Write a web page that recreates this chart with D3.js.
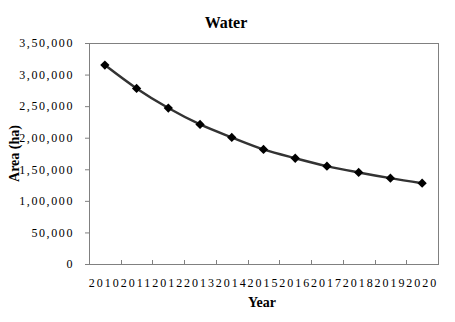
<!DOCTYPE html>
<html><head><meta charset="utf-8">
<script src="https://cdn.jsdelivr.net/npm/d3@7"></script>
<style>body{margin:0;background:#fff}svg{display:block}text{font-family:"Liberation Serif","Times New Roman",serif}</style>
</head><body><svg id="c" width="455" height="322"></svg>
<script>
const years = ["2010","2011","2012","2013","2014","2015","2016","2017","2018","2019","2020"];
const waterArea = [315000,278000,247000,221000,200500,181500,167500,155000,145000,136000,128000];
const yTicks = [0,50000,100000,150000,200000,250000,300000,350000];
const yTickLabels = ["0","50,000","1,00,000","1,50,000","2,00,000","2,50,000","3,00,000","3,50,000"];

const svg = d3.select("#c");
const L=89, R=438, T=43, B=264;
const x = d3.scaleBand().domain(years).range([L,R]);
const y = d3.scaleLinear().domain([0,350000]).range([B,T]);

// frame
svg.append("rect").attr("x",L+0.5).attr("y",T+0.5).attr("width",R-L).attr("height",B-T)
  .attr("fill","none").attr("stroke","#808080").attr("stroke-width",1);

// y axis
const ya = svg.append("g").attr("transform",`translate(${L},0)`)
  .call(d3.axisLeft(y).tickValues(yTicks).tickSize(4).tickPadding(11).tickFormat((d,i)=>yTickLabels[i]));
ya.select(".domain").attr("stroke","#808080");
ya.selectAll(".tick line").attr("stroke","#808080");
ya.selectAll("text").attr("font-size",12).attr("fill","#000").attr("letter-spacing","1.6px");

// x axis with ticks at band boundaries
const xa = svg.append("g").attr("transform",`translate(0,${B})`)
  .call(d3.axisBottom(x).tickSize(0).tickPadding(14));
xa.select(".domain").attr("stroke","#808080");
xa.selectAll("text").attr("font-size",12).attr("fill","#000").attr("letter-spacing","2px");
xa.selectAll(".tickmark").data(years.slice(1)).enter().append("line")
  .attr("x1",d=>Math.round(x(d))+0.5).attr("x2",d=>Math.round(x(d))+0.5)
  .attr("y1",0).attr("y2",-4).attr("stroke","#808080");

// line
const pts = years.map((d,i)=>[x(d)+x.bandwidth()/2, y(waterArea[i])]);
svg.append("path").attr("d",d3.line().curve(d3.curveMonotoneX)(pts))
  .attr("fill","none").attr("stroke","#333").attr("stroke-width",2.5);
svg.selectAll(".m").data(pts).enter().append("path")
  .attr("transform",d=>`translate(${d[0]},${d[1]})`)
  .attr("d",d3.symbol(d3.symbolDiamond2,55)).attr("fill","#000");

// titles
svg.append("text").attr("x",226).attr("y",28).attr("text-anchor","middle")
  .attr("font-size",16).attr("font-weight","bold").text("Water");
svg.append("text").attr("transform",`translate(19,${(T+B)/2}) rotate(-90)`).attr("text-anchor","middle")
  .attr("font-size",14).attr("font-weight","bold").text("Area (ha)");
svg.append("text").attr("x",262).attr("y",307).attr("text-anchor","middle")
  .attr("font-size",14).attr("font-weight","bold").text("Year");
</script></body></html>
